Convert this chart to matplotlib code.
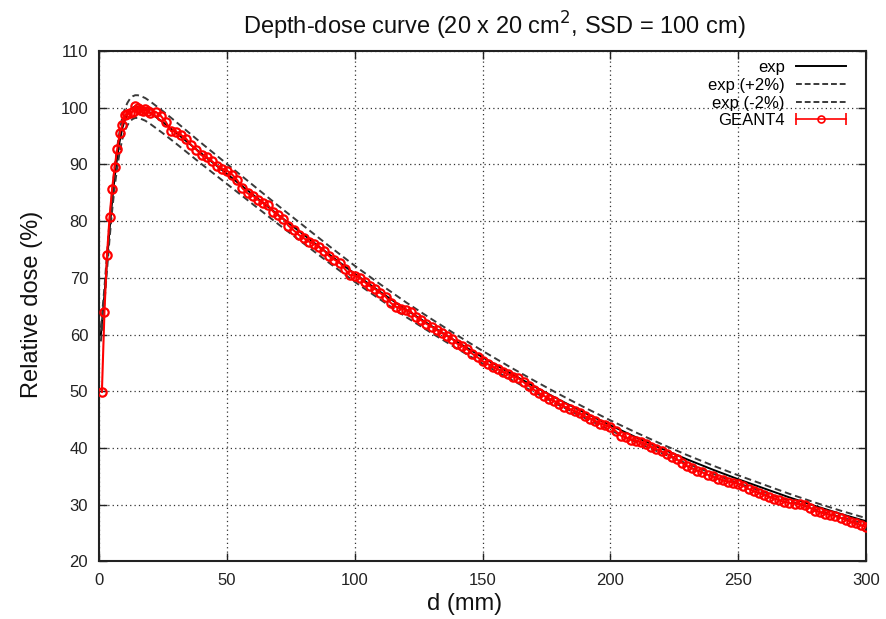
import numpy as np
import matplotlib
matplotlib.use("Agg")
import matplotlib.pyplot as plt
from matplotlib.lines import Line2D
from matplotlib.legend_handler import HandlerBase

plt.rcParams['font.family'] = ['Liberation Sans', 'DejaVu Sans']

# measured depth-dose (exp), depth in mm, dose in %
exp_d = [0.6, 1, 2, 3, 4, 5, 6, 7, 8, 9, 10, 11, 12, 13, 14, 15, 16, 18, 20,
         25, 30, 40, 50, 60, 70, 80, 90, 100, 110, 120, 130, 140, 150,
         160, 170, 180, 190, 200, 210, 220, 230, 240, 250, 260, 270, 280,
         290, 300]
exp_v = [60.0, 62.0, 67.0, 72.8, 78.5, 83.5, 87.8, 91.3, 94.2, 96.4, 97.9,
         98.9, 99.6, 100.0, 100.2, 100.2, 100.1, 99.7, 99.1,
         97.4, 95.6, 91.9, 88.3, 84.7, 81.1, 77.6, 74.1, 70.7, 67.5, 64.4,
         61.5, 58.7, 56.0, 53.4, 50.9, 48.5, 46.2, 44.0, 41.9, 39.9, 38.0,
         36.2, 34.5, 32.9, 31.3, 29.8, 28.4, 27.1]

# GEANT4 simulation: 1 mm bins in the build-up, 2 mm bins after
g4_d_buildup = [1, 2, 3, 4, 5, 6, 7, 8, 9, 10, 11, 12, 13, 14, 15, 16, 17, 18, 19, 20]
g4_v_buildup = [49.9, 64.0, 74.1, 80.7, 85.7, 89.6, 92.7, 95.5, 97.0, 98.7,
                98.9, 99.0, 99.3, 100.3, 100.0, 99.6, 99.5, 99.7, 99.4, 99.0]
g4_v_tail = [
    99.3, 98.6, 97.5, 95.9, 95.8, 95.2, 94.5, 93.4, 92.6, 91.6,   # 22-40
    91.3, 90.6, 89.8, 89.2, 88.9, 88.2, 87.2, 85.8, 84.9, 84.5,   # 42-60
    83.8, 83.2, 82.8, 81.7, 81.0, 80.4, 79.2, 78.4, 77.6, 77.0,   # 62-80
    76.4, 76.0, 75.4, 74.8, 73.8, 73.2, 72.7, 71.6, 70.5, 70.4,   # 82-100
    70.0, 69.2, 68.5, 68.0, 67.3, 66.7, 65.6, 64.9, 64.6, 64.3,   # 102-120
    64.0, 63.1, 62.5, 61.9, 61.4, 60.8, 60.3, 59.8, 59.3, 58.4,   # 122-140
    58.0, 57.4, 56.6, 56.0, 55.3, 54.8, 54.3, 53.9, 53.4, 53.0,   # 142-160
    52.6, 52.3, 51.6, 51.0, 50.3, 49.7, 49.2, 48.7, 48.3, 47.8,   # 162-180
    47.3, 46.9, 46.5, 46.1, 45.6, 45.2, 44.8, 44.3, 44.0, 43.7,   # 182-200
    43.0, 42.2, 41.9, 41.5, 41.3, 41.0, 40.7, 40.2, 39.8, 39.4,   # 202-220
    39.0, 38.5, 38.0, 37.4, 36.8, 36.4, 36.0, 35.7, 35.3, 35.0,   # 222-240
    34.6, 34.3, 34.1, 33.9, 33.7, 33.3, 32.8, 32.4, 32.1, 31.8,   # 242-260
    31.4, 31.1, 30.8, 30.5, 30.3, 30.2, 30.1, 30.0, 29.5, 28.9,   # 262-280
    28.7, 28.4, 28.2, 28.0, 27.7, 27.4, 27.0, 26.7, 26.4, 26.1,   # 282-300
]
g4_d_tail = list(range(22, 301, 2))

x_ticks = [0, 50, 100, 150, 200, 250, 300]
y_ticks = [20, 30, 40, 50, 60, 70, 80, 90, 100, 110]


class G4Handler(HandlerBase):
    # gnuplot style sample: |---o---|
    def create_artists(self, legend, orig_handle, xdescent, ydescent,
                       width, height, fontsize, trans):
        x0, x1 = -xdescent, width - xdescent
        y = (height - ydescent) / 2
        bar = Line2D([x0, x1], [y, y], color='red', lw=1.2, transform=trans)
        caps = Line2D([x0, x1], [y, y], ls='none', marker='|', ms=8,
                      mew=1.2, color='red', transform=trans)
        pt = Line2D([(x0 + x1) / 2], [y], ls='none', marker='o', ms=5,
                    mfc='none', mec='red', mew=1.2, transform=trans)
        return [bar, caps, pt]


def main():
    ed = np.array(exp_d)
    ev = np.array(exp_v)
    gd = np.array(g4_d_buildup + g4_d_tail)
    gv = np.array(g4_v_buildup + g4_v_tail)

    fig = plt.figure(figsize=(8.87, 6.19), dpi=100)
    ax = fig.add_axes([0.112, 0.0929, 0.8644, 0.8247])

    ax.plot(ed, ev, color='black', lw=1.4, zorder=3)
    ax.plot(ed, ev * 1.02, color='#3a3a3a', lw=1.4, ls=(0, (3.5, 2)), zorder=3)
    ax.plot(ed, ev * 0.98, color='#3a3a3a', lw=1.4, ls=(0, (3.5, 2)), zorder=3)
    g4, = ax.plot(gd, gv, color='red', lw=1.5, marker='o', ms=6,
                  mfc='none', mec='red', mew=1.6, zorder=4)

    ax.set_xlim(0, 300)
    ax.set_ylim(20, 110)
    ax.set_xticks(x_ticks)
    ax.set_yticks(y_ticks)
    ax.tick_params(direction='in', length=6, width=1.0, top=True, right=True,
                   labelsize=12, pad=8, colors='#222222')
    ax.grid(True, color='#333333', ls=(0, (1, 2.5)), lw=0.9)
    for s in ax.spines.values():
        s.set_linewidth(1.5)
        s.set_color('#222222')

    handles = [Line2D([], [], color='black', lw=1.4),
               Line2D([], [], color='#3a3a3a', lw=1.4, ls=(0, (3, 1.5))),
               Line2D([], [], color='#3a3a3a', lw=1.4, ls=(0, (3, 1.5))),
               g4]
    labels = ['exp', 'exp (+2%)', 'exp (-2%)', 'GEANT4']
    ax.legend(handles, labels, loc='upper right', frameon=False,
              markerfirst=False, fontsize=12, handlelength=3.0,
              handletextpad=0.65, labelspacing=0.16, borderpad=0,
              borderaxespad=0, bbox_to_anchor=(0.9735, 0.982),
              handler_map={g4: G4Handler()})

    fig.text(494 / 887, 1 - 34.5 / 619, r'Depth-dose curve (20 x 20 cm$^2$, SSD = 100 cm)',
             ha='center', va='baseline', fontsize=17, color='#111111')
    fig.text(465 / 887, 1 - 604 / 619, 'd (mm)', ha='center', va='center',
             fontsize=17, color='#111111')
    fig.text(32 / 887, 1 - 304 / 619, 'Relative dose (%)', ha='center',
             va='center', rotation=90, fontsize=17, color='#111111')

    fig.savefig('out.png', dpi=100)
    plt.close()


if __name__ == "__main__":
    main()
